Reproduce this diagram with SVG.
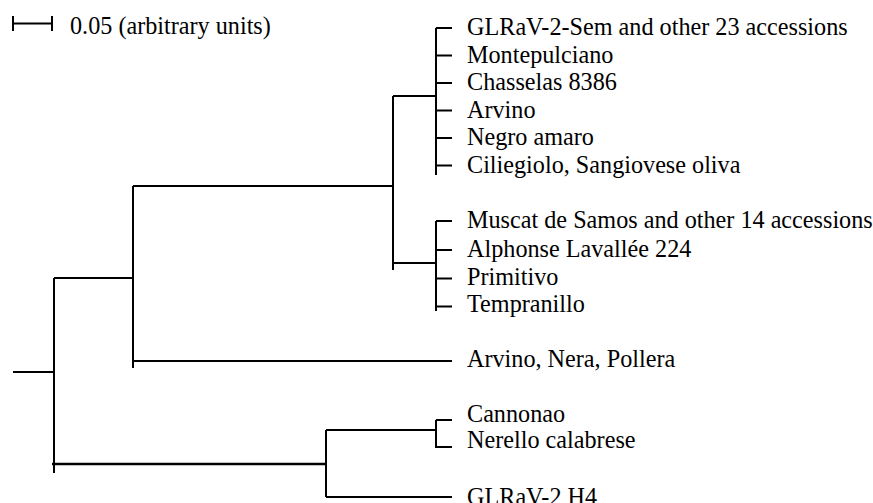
<svg xmlns="http://www.w3.org/2000/svg" width="873" height="503" viewBox="0 0 873 503">
<style>
text{font-family:"Liberation Serif","Times New Roman",serif;font-size:24.2px;fill:#000}
.br{stroke:#000;stroke-width:2;fill:none;stroke-linecap:butt}
.thick{stroke-width:2.6}
</style>
<rect width="873" height="503" fill="#fff"/>
<g id="scale">
<path class="br" d="M13,23.5H52M13,16V31M52,16V31"/>
<text x="70" y="34">0.05 (arbitrary units)</text>
</g>
<g id="connectors">
<path class="br" d="M13,372H54M54,278V473M54,278H133M133,186V368M133,186H393M393,96V270M393,96H436M436,28V175M393,263H436M436,221V311M133,361H452"/>
<path class="br" d="M436,28H452M436,55.5H452M436,83H452M436,110.5H452M436,138H452M436,165.5H452"/>
<path class="br" d="M436,221H452M436,250H452M436,278.5H452M436,306.5H452"/>
<path class="br thick" d="M52,464H326"/>
<path class="br" d="M326,430V497M326,430H436M436,420V448M436,420H452M436,447H452M326,497H452"/>
</g>
<g id="n-sem"><text x="467" y="35">GLRaV-2-Sem and other 23 accessions</text></g>
<g id="n-montepulciano"><text x="467" y="62.5">Montepulciano</text></g>
<g id="n-chasselas"><text x="467" y="90">Chasselas 8386</text></g>
<g id="n-arvino"><text x="467" y="117.5">Arvino</text></g>
<g id="n-negro"><text x="467" y="145">Negro amaro</text></g>
<g id="n-ciliegiolo"><text x="467" y="172.5">Ciliegiolo, Sangiovese oliva</text></g>
<g id="n-muscat"><text x="467" y="228">Muscat de Samos and other 14 accessions</text></g>
<g id="n-alphonse"><text x="467" y="257">Alphonse Lavallée 224</text></g>
<g id="n-primitivo"><text x="467" y="285">Primitivo</text></g>
<g id="n-tempranillo"><text x="467" y="312">Tempranillo</text></g>
<g id="n-arvino-nera"><text x="467" y="367">Arvino, Nera, Pollera</text></g>
<g id="n-cannonao"><text x="467" y="422">Cannonao</text></g>
<g id="n-nerello"><text x="467" y="448">Nerello calabrese</text></g>
<g id="n-h4"><text x="467" y="505">GLRaV-2 H4</text></g>
</svg>
